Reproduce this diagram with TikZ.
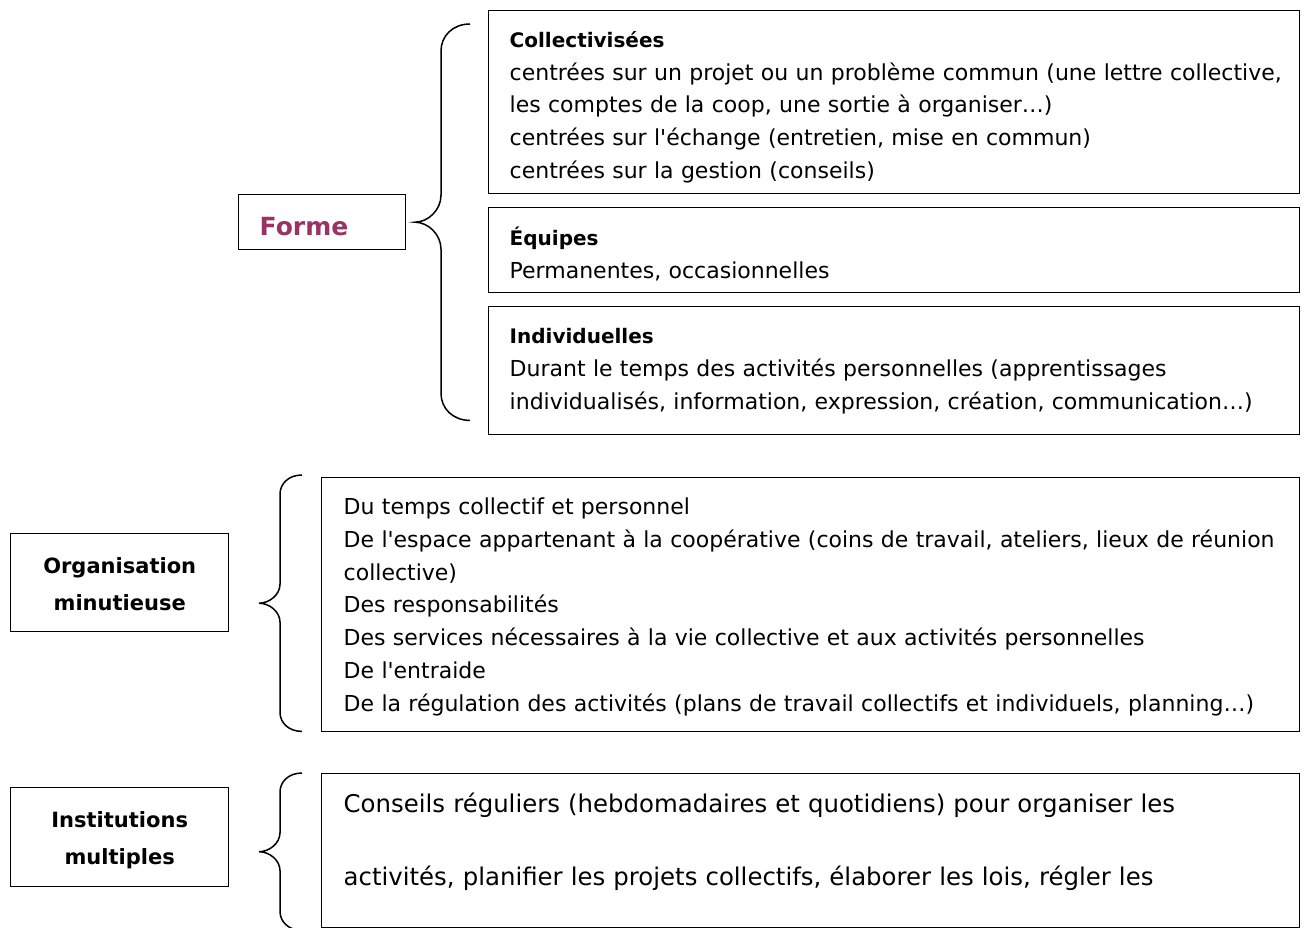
\documentclass[tikz,border=0pt]{standalone}
\usepackage{fontspec}
\setmainfont{DejaVu Sans}[Ligatures=TeXOff]
\usetikzlibrary{calc,positioning}
\definecolor{formecolor}{RGB}{153,51,102}
\tikzstyle{box}=[draw,line width=1.4pt,anchor=north west,inner xsep=21pt,inner ysep=0pt,align=left,font=\fontsize{22}{32.8}\selectfont]
\tikzstyle{titlebox}=[box,align=center,font=\fontsize{21}{37}\selectfont\bfseries]
\tikzstyle{bracestyle}=[draw,line width=1.5pt]
\newcommand{\head}[1]{{\fontsize{20}{32.8}\selectfont\bfseries #1}}
% curly brace: top end, bottom end, end-to-spine, spine-to-tip, curl length
\newcommand{\curlybrace}[5]{%
  \draw[bracestyle] (#1) .. controls +(-0.6*#3,0) and +(0,-0.55*#5) .. ($(#1)+(-#3,#5)$)
    -- ($(#1)!0.5!(#2)+(-#3,-#5)$)
    .. controls +(0,0.55*#5) and +(0.5*#4,0) .. ($(#1)!0.5!(#2)+(-#3-#4,0)$)
    .. controls +(0.5*#4,0) and +(0,-0.55*#5) .. ($(#1)!0.5!(#2)+(-#3,#5)$)
    -- ($(#2)+(-#3,-#5)$)
    .. controls +(0,0.55*#5) and +(-0.6*#3,0) .. (#2);}

\begin{document}
\begin{tikzpicture}[x=1pt,y=-1pt]
    \useasboundingbox (0,0) rectangle (1306,928);
    \fill[white] (0,0) rectangle (1306,928);
    \clip (0,0) rectangle (1306,928);
    % First the forms of work
    \node[box, text width=125pt, text height=41pt, text depth=14pt,
          font=\fontsize{25}{30}\selectfont\bfseries, text=formecolor] (forme) at (238,194) {Forme};
    \node[box, text width=769pt, text height=36.7pt, text depth=146.3pt] (coll) at (488,10)
        {\head{Collectivisées}\\
         \mbox{centrées sur un projet ou un problème commun (une lettre collective,}\\
         les comptes de la coop, une sortie à organiser…)\\
         centrées sur l'échange (entretien, mise en commun)\\
         centrées sur la gestion (conseils)};
    \node[box, text width=769pt, text height=38pt, text depth=47pt] (equipes) at (488,207)
        {\head{Équipes}\\
         Permanentes, occasionnelles};
    \node[box, text width=769pt, text height=37pt, text depth=91pt] (indiv) at (488,306)
        {\head{Individuelles}\\
         Durant le temps des activités personnelles (apprentissages\\
         individualisés, information, expression, création, communication…)};
    % Then the organisation
    \node[titlebox, text width=176pt, text height=40pt, text depth=58pt] (orga) at (10,533)
        {Organisation\\ minutieuse};
    \node[box, inner xsep=22pt, text width=934pt, text height=36.7pt, text depth=217.3pt] (temps) at (321,477)
        {Du temps collectif et personnel\\
         \mbox{De l'espace appartenant à la coopérative (coins de travail, ateliers, lieux de réunion}\\
         collective)\\
         Des responsabilités\\
         Des services nécessaires à la vie collective et aux activités personnelles\\
         De l'entraide\\
         \mbox{De la régulation des activités (plans de travail collectifs et individuels, planning…)}};
    % And the institutions
    \node[titlebox, text width=176pt, text height=39.7pt, text depth=59.3pt] (instit) at (10,787)
        {Institutions\\ multiples};
    \node[box, inner xsep=22pt, text width=934pt, text height=38.7pt, text depth=115.3pt,
          font=\fontsize{24.4}{73.3}\selectfont] (conseils) at (321,773)
        {Conseils réguliers (hebdomadaires et quotidiens) pour organiser les\\
         activités, planifier les projets collectifs, élaborer les lois, régler les};
    % Braces between the titles and their boxes
    \coordinate (formetop) at ($(coll.north west)+(-18,14)$);
    \coordinate (formebot) at ($(indiv.south west)+(-18,-15)$);
    \curlybrace{formetop}{formebot}{29}{26}{27}
    \coordinate (orgatop) at ($(temps.north west)+(-19,-2)$);
    \coordinate (orgabot) at ($(temps.south west)+(-19,-1)$);
    \curlybrace{orgatop}{orgabot}{22}{21}{19}
    \coordinate (instittop) at ($(conseils.north west)+(-19,0)$);
    \coordinate (institbot) at ($(conseils.south west)+(-19,2)$);
    \curlybrace{instittop}{institbot}{22}{21}{19}
\end{tikzpicture}
\end{document}
